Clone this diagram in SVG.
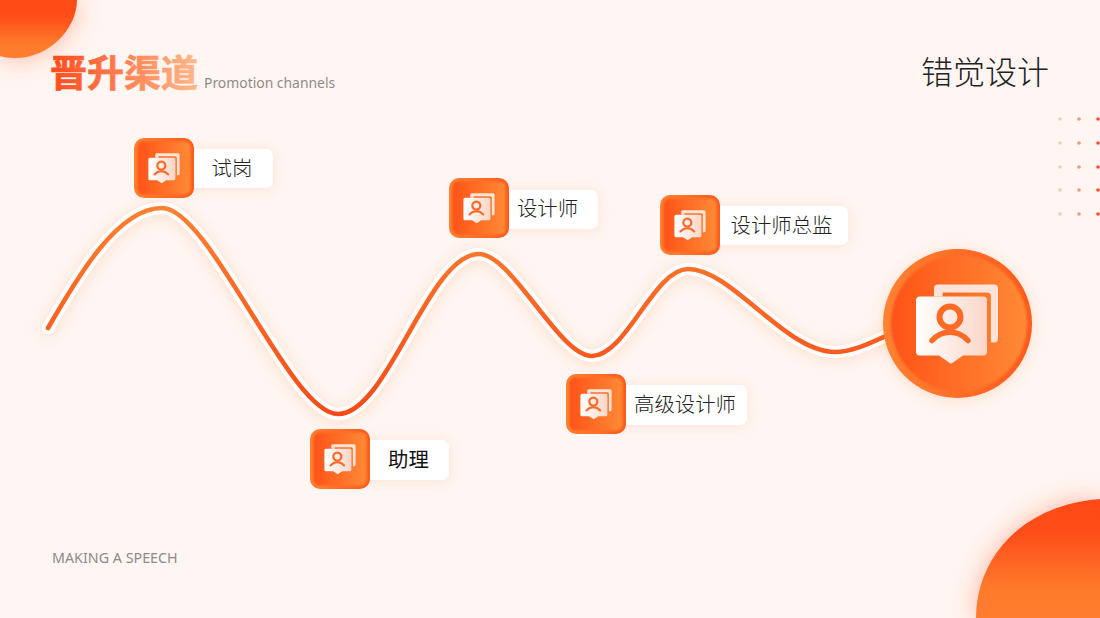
<svg xmlns="http://www.w3.org/2000/svg" width="1100" height="618" viewBox="0 0 1100 618">
<style>
.cn{font-family:"Noto Sans CJK SC","Noto Sans",sans-serif}
.lb{font-size:20.4px;font-weight:300;fill:#222;text-anchor:middle}
.en{font-family:"Noto Sans","Open Sans",sans-serif;fill:#8f8a8a}
.card{fill:#fff;filter:url(#soft)}
</style>
<defs>
<linearGradient id="blob" x1="0" y1="0" x2="0" y2="1"><stop offset="0" stop-color="#ff4a17"/><stop offset=".3" stop-color="#ff4f1a"/><stop offset=".75" stop-color="#ff7a2c"/><stop offset="1" stop-color="#ff7d2e"/></linearGradient>
<linearGradient id="title" gradientUnits="userSpaceOnUse" x1="50" y1="0" x2="198" y2="0"><stop offset="0" stop-color="#ff4a1c"/><stop offset="1" stop-color="#ffb98a"/></linearGradient>
<linearGradient id="curve" gradientUnits="userSpaceOnUse" x1="0" y1="208" x2="0" y2="414"><stop offset="0" stop-color="#ff8030"/><stop offset="1" stop-color="#f94a18"/></linearGradient>
<linearGradient id="rim" x1="0" y1="0" x2="1" y2="0"><stop offset="0" stop-color="#ff8232"/><stop offset="1" stop-color="#ff5a1c"/></linearGradient>
<linearGradient id="fillg" x1="0" y1="0" x2="1" y2="0"><stop offset="0" stop-color="#ff5319"/><stop offset="1" stop-color="#ff8a35"/></linearGradient>
<linearGradient id="paper" x1="0" y1="0" x2="1" y2="0"><stop offset="0" stop-color="#fff"/><stop offset="1" stop-color="#fbd6c8"/></linearGradient>
<filter id="soft" x="-30%" y="-50%" width="160%" height="200%"><feDropShadow dx="0" dy="1" stdDeviation="6" flood-color="#ff7a40" flood-opacity=".16"/></filter>
<filter id="glow" x="-40%" y="-40%" width="180%" height="180%"><feDropShadow dx="0" dy="0" stdDeviation="12" flood-color="#ff5a20" flood-opacity=".42"/></filter>
<filter id="halo" x="-20%" y="-20%" width="140%" height="140%"><feDropShadow dx="0" dy="2" stdDeviation="7" flood-color="#ff6a30" flood-opacity=".18"/></filter>
<filter id="edge" x="-10%" y="-10%" width="120%" height="120%"><feGaussianBlur stdDeviation="1"/></filter>
<g id="icon">
<path d="M-19-39H37a4 4 0 0 1 4 4V15a4 4 0 0 1-4 4H34V-27a4 4 0 0 0-4-4H-14.300V-27H-23V-35a4 4 0 0 1 4-4Z" fill="#fde3d8"/>
<path d="M-37-27H26a4 4 0 0 1 4 4V28a4 4 0 0 1-4 4H6L-4 39a3 3 0 0 1-4 0L-18 32H-37a4 4 0 0 1-4-4V-23a4 4 0 0 1 4-4Z" fill="url(#paper)"/>
<circle cx="-7" cy="-6.500" r="10.500" fill="none" stroke="#ff6a28" stroke-width="6"/>
<path d="M-25 17C-15 6 1 6 11 17" fill="none" stroke="#ff6a28" stroke-width="5.500" stroke-linecap="round"/>
</g>
<g id="tile">
<rect x="-30" y="-30" width="60" height="60" rx="10" fill="url(#rim)"/>
<rect x="-26.500" y="-26.500" width="53" height="53" rx="6" fill="url(#fillg)" filter="url(#edge)"/>
<use href="#icon" transform="scale(.38)"/>
</g>
</defs>
<rect width="1100" height="618" fill="#fff5f2"/>
<path id="blob-top" d="M0 0H77C77 28 50 58 15 58C8 58 3 57 0 56Z" fill="url(#blob)" filter="url(#glow)"/>
<path id="blob-bottom" d="M976 618C976 560 1020 505 1100 499V618Z" fill="url(#blob)" filter="url(#glow)"/>
<g id="dots">
<g fill="#ffc7a8"><circle cx="1060" cy="119" r="1.800"/><circle cx="1060" cy="143" r="1.800"/><circle cx="1060" cy="167" r="1.800"/><circle cx="1060" cy="190" r="1.800"/><circle cx="1060" cy="214" r="1.800"/></g>
<g fill="#f09a7c"><circle cx="1079" cy="119" r="1.800"/><circle cx="1079" cy="143" r="1.800"/><circle cx="1079" cy="167" r="1.800"/><circle cx="1079" cy="190" r="1.800"/><circle cx="1079" cy="214" r="1.800"/></g>
<g fill="#f0522a"><circle cx="1098" cy="119" r="1.800"/><circle cx="1098" cy="143" r="1.800"/><circle cx="1098" cy="167" r="1.800"/><circle cx="1098" cy="190" r="1.800"/><circle cx="1098" cy="214" r="1.800"/></g>
</g>
<text x="50" y="87" class="cn" font-size="37" font-weight="700" fill="url(#title)" stroke="url(#title)" stroke-width=".7">晋升渠道</text>
<text x="204" y="87.500" class="en" font-size="13.900">Promotion channels</text>
<text x="921" y="84" class="cn" font-size="32" font-weight="300" fill="#222">错觉设计</text>
<text x="52" y="563" class="en" font-size="14.300">MAKING A SPEECH</text>
<g id="connectors" fill="none" stroke-linecap="round">
<path id="wave-halo" d="M48 328C78 276 118 208 162 208C210 208 290 414 338 414C388 414 428 254 479 254C512 254 559 356 592 356C626 356 654 269 688 269C732 269 785 352 835 352C852 352 868 344 888 335" stroke="#fff" stroke-width="12" filter="url(#halo)"/>
<path id="wave" d="M48 328C78 276 118 208 162 208C210 208 290 414 338 414C388 414 428 254 479 254C512 254 559 356 592 356C626 356 654 269 688 269C732 269 785 352 835 352C852 352 868 344 888 335" stroke="url(#curve)" stroke-width="4.600"/>
</g>
<g id="node-end" filter="url(#halo)">
<circle cx="957.500" cy="323.500" r="74.500" fill="url(#rim)"/>
<circle cx="959" cy="323.500" r="68" fill="url(#fillg)" filter="url(#edge)"/>
<use href="#icon" transform="translate(957 323.500)"/>
</g>
<g id="node-shigang"><rect class="card" x="170" y="149" width="103" height="39" rx="7"/><use href="#tile" transform="translate(164 168)"/><text class="cn lb" x="232" y="175.500">试岗</text></g>
<g id="node-zhuli"><rect class="card" x="346" y="440" width="103" height="40" rx="7"/><use href="#tile" transform="translate(340 459)"/><text class="cn lb" x="408.500" y="467" style="fill:#111;font-weight:400">助理</text></g>
<g id="node-shejishi"><rect class="card" x="485" y="190" width="113" height="39" rx="7"/><use href="#tile" transform="translate(479 208)"/><text class="cn lb" x="547.500" y="216">设计师</text></g>
<g id="node-gaoji"><rect class="card" x="602" y="385" width="145" height="40" rx="7"/><use href="#tile" transform="translate(596 404)"/><text class="cn lb" x="685" y="411.500">高级设计师</text></g>
<g id="node-zongjian"><rect class="card" x="696" y="206" width="152" height="39" rx="7"/><use href="#tile" transform="translate(690 225)"/><text class="cn lb" x="781.500" y="232.500">设计师总监</text></g>
</svg>
